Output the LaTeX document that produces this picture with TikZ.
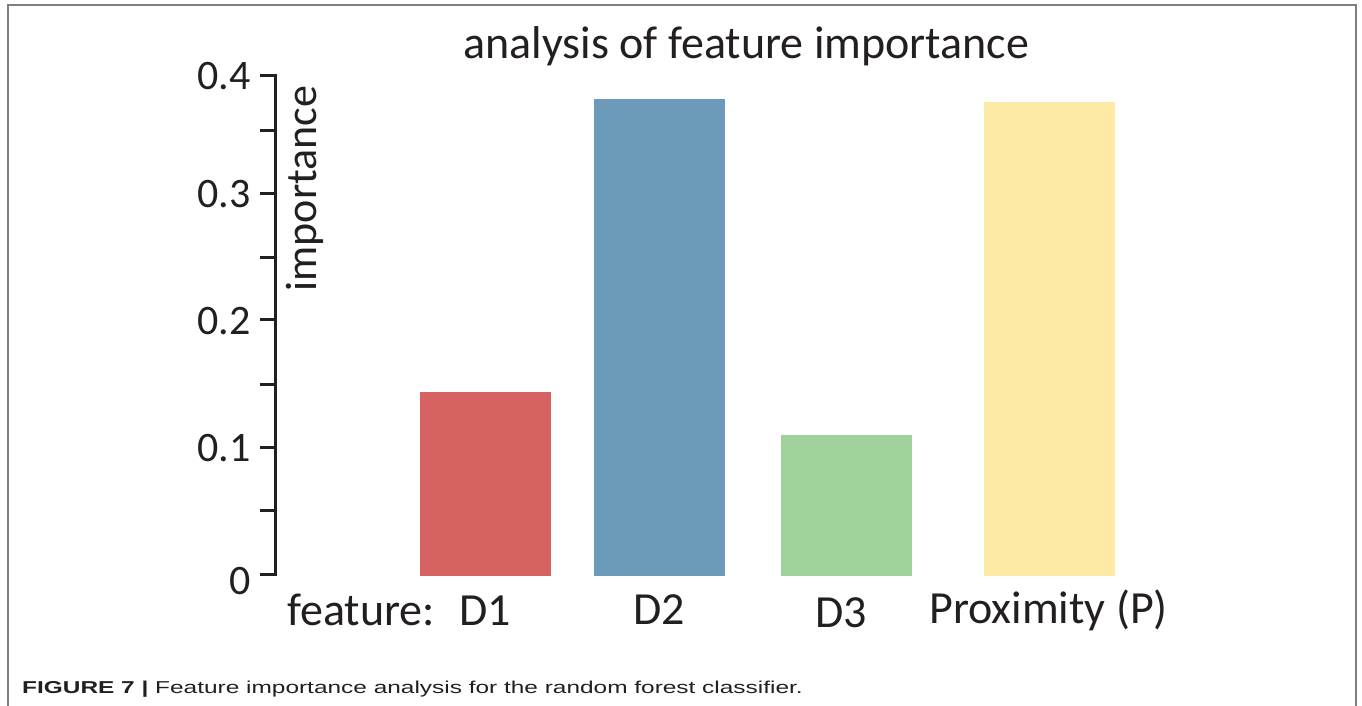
\documentclass[tikz,border=0pt]{standalone}
\usepackage{fontspec}
\setmainfont{Carlito}
\newfontfamily\capfont[FakeStretch=1.42]{Liberation Sans}
\definecolor{ink}{HTML}{231F20}
\definecolor{frameg}{HTML}{7F7F7F}
\definecolor{barD1}{HTML}{D76262}
\definecolor{barD2}{HTML}{6B9ABB}
\definecolor{barD3}{HTML}{A0D29B}
\definecolor{barP}{HTML}{FDEBA5}
\begin{document}
\begin{tikzpicture}[x=1pt,y=-1pt,
  axisline/.style={draw=ink, line width=3pt},
  ticklab/.style={anchor=east, inner sep=0pt, text=ink, font=\fontsize{42}{46}\selectfont},
  catlab/.style={anchor=base, inner sep=0pt, text=ink, font=\fontsize{46}{50}\selectfont},
  ttl/.style={anchor=base, inner sep=0pt, text=ink, font=\fontsize{46}{50}\selectfont},
  captext/.style={anchor=base west, inner sep=0pt, text=ink, font=\capfont\fontsize{17.2}{20}\selectfont}]
\useasboundingbox (0,0) rectangle (1362,705);
% open frame around figure and caption
\draw[frameg, line width=2pt] (8,706) -- (8,5) -- (1356,5) -- (1356,706);
% bars
\fill[barD1] (420,392) rectangle (551,576);
\fill[barD2] (594,99) rectangle (725,576);
\fill[barD3] (781,435) rectangle (912,576);
\fill[barP] (984,102) rectangle (1115,576);
% y axis
\draw[axisline, line cap=butt] (275,74) -- (275,575.5);
\foreach \yy in {75,130,193,257,319,384,447,510,574}
  \draw[axisline] (260,\yy) -- (276.5,\yy);
\node[ticklab] (t0) at (251,581) {0};
\node[ticklab] (t1) at (251,448) {0.1};
\node[ticklab] (t2) at (251,321) {0.2};
\node[ticklab] (t3) at (251,194) {0.3};
\node[ticklab] (t4) at (251,76) {0.4};
\node[anchor=base, rotate=90, inner sep=0pt, text=ink, font=\fontsize{44}{48}\selectfont] (ylab) at (316,188.5) {importance};
% title
\node[ttl] (title) at (746.5,58) {analysis of feature importance};
% categories
\node[catlab, anchor=base west] (feat) at (287,625) {feature:};
\node[catlab] (l1) at (485,625) {D1};
\node[catlab] (l2) at (659,624) {D2};
\node[catlab] (l3) at (841,627) {D3};
\node[catlab] (l4) at (1048.5,623) {Proximity (P)};
% caption
\node[captext] (caption) at (22,693) {\textbf{FIGURE 7 |} Feature importance analysis for the random forest classifier.};
\end{tikzpicture}
\end{document}
